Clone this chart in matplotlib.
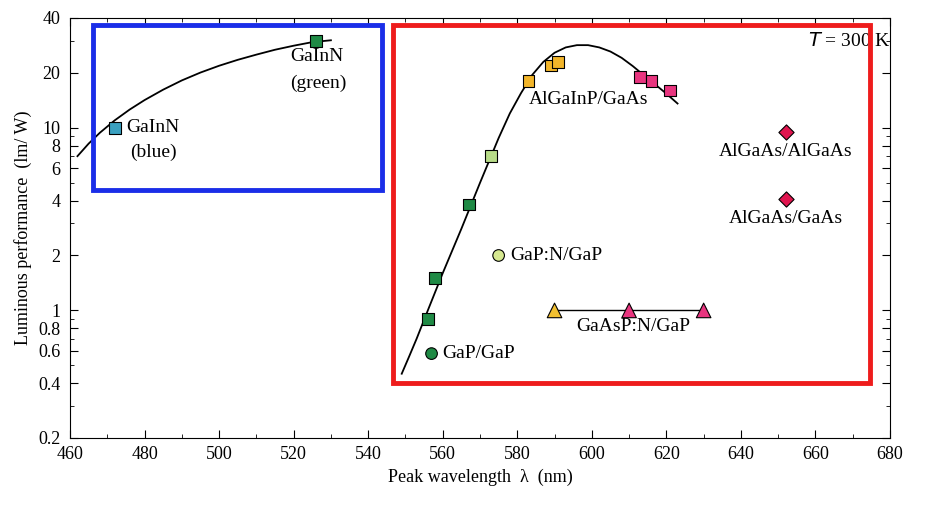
import matplotlib
matplotlib.use("Agg")
import matplotlib.pyplot as plt
from matplotlib.ticker import FixedLocator, NullFormatter, FixedFormatter
from matplotlib.patches import Rectangle

plt.rcParams["font.family"] = "Liberation Serif"

curve_right_x = [549, 551, 553, 556, 560, 565, 570, 575, 578, 581, 584, 587, 590, 593, 596, 599, 602, 605, 608, 611, 614, 617, 620, 623]
curve_right_y = [0.45, 0.56, 0.7, 1.0, 1.6, 2.8, 5, 8.8, 12, 15.5, 19.5, 23, 25.8, 27.6, 28.4, 28.4, 27.6, 26.2, 24.2, 21.8, 19.4, 17.3, 15.4, 13.6]
curve_left_x = [462, 465, 468, 472, 476, 480, 485, 490, 495, 500, 505, 510, 515, 520, 525, 530]
curve_left_y = [7.0, 8.2, 9.4, 11.0, 12.6, 14.2, 16.2, 18.2, 20.1, 21.9, 23.6, 25.2, 26.8, 28.2, 29.5, 30.2]

sq_x = [472, 526, 556, 558, 567, 573, 583, 589, 591, 613, 616, 621]
sq_y = [10, 30, 0.9, 1.5, 3.8, 7, 18, 22, 23, 19, 18, 16]
sq_c = ["#3aa0c0", "#1f8a45", "#1f8a45", "#1f8a45", "#1f8a45", "#b8dc88",
        "#f2b52a", "#f2b52a", "#f2b52a", "#e8357f", "#e8357f", "#e8357f"]
circ_x = [557, 575]
circ_y = [0.58, 2.0]
circ_c = ["#1f8a45", "#d6e890"]
tri_x = [590, 610, 630]
tri_y = [1.0, 1.0, 1.0]
tri_c = ["#f2c030", "#e8357f", "#e8357f"]
dia_x = [652, 652]
dia_y = [9.5, 4.1]

fig = plt.figure(figsize=(9.25, 5.13), dpi=100)
ax = fig.add_axes([70/925, 1-438/513, 820/925, 420/513])
ax.set_yscale("log")
ax.set_xlim(460, 680)
ax.set_ylim(0.2, 40)

ax.plot(curve_right_x, curve_right_y, color="black", lw=1.3)
ax.plot(curve_left_x, curve_left_y, color="black", lw=1.3)
ax.plot(tri_x, tri_y, color="black", lw=1)
ax.scatter(sq_x, sq_y, marker="s", s=70, c=sq_c, edgecolors="black", linewidths=0.8, zorder=3)
ax.scatter(circ_x, circ_y, marker="o", s=70, c=circ_c, edgecolors="black", linewidths=0.8, zorder=3)
ax.scatter(tri_x, tri_y, marker="^", s=110, c=tri_c, edgecolors="black", linewidths=0.8, zorder=3)
ax.scatter(dia_x, dia_y, marker="D", s=60, c="#e0154f", edgecolors="black", linewidths=0.8, zorder=3)

ax.add_patch(Rectangle((466.2, 4.57), 543.7-466.2, 36.6-4.57, fill=False, ec="#1a2ee8", lw=3.5, zorder=4))
ax.add_patch(Rectangle((546.7, 0.40), 674.6-546.7, 36.6-0.40, fill=False, ec="#ee1c1c", lw=3.5, zorder=4))

fs = 14
ax.text(475, 10, "GaInN", fontsize=fs, va="center")
ax.text(476, 7.3, "(blue)", fontsize=fs, va="center")
ax.text(519, 24.5, "GaInN", fontsize=fs, va="center")
ax.text(519, 17.5, "(green)", fontsize=fs, va="center")
ax.text(560, 0.58, "GaP/GaP", fontsize=fs, va="center")
ax.text(578, 2.0, "GaP:N/GaP", fontsize=fs, va="center")
ax.text(583, 14.3, "AlGaInP/GaAs", fontsize=fs, va="center")
ax.text(652, 7.4, "AlGaAs/AlGaAs", fontsize=fs, va="center", ha="center")
ax.text(652, 3.2, "AlGaAs/GaAs", fontsize=fs, va="center", ha="center")
ax.text(611, 0.82, "GaAsP:N/GaP", fontsize=fs, va="center", ha="center")
ax.text(658, 30, "$T$ = 300 K", fontsize=fs, va="center")

ax.set_xticks(range(460, 681, 20))
ax.set_xticks(range(460, 681, 10), minor=True)
yt = [0.2, 0.4, 0.6, 0.8, 1, 2, 4, 6, 8, 10, 20, 40]
ax.yaxis.set_major_locator(FixedLocator(yt))
ax.yaxis.set_major_formatter(FixedFormatter([str(v) if v < 1 else str(int(v)) for v in yt]))
ax.yaxis.set_minor_locator(FixedLocator([0.3, 0.5, 0.7, 0.9, 3, 5, 7, 9, 30]))
ax.yaxis.set_minor_formatter(NullFormatter())
ax.tick_params(which="both", direction="in", top=True, right=True, labelsize=13)
ax.tick_params(which="major", length=6)
ax.tick_params(which="minor", length=3)
ax.tick_params(axis="x", pad=6)
ax.tick_params(axis="y", pad=7)
ax.set_xlabel("Peak wavelength  λ  (nm)", fontsize=13)
ax.set_ylabel("Luminous performance  (lm/ W)", fontsize=13)
fig.savefig("out.png", dpi=100)
